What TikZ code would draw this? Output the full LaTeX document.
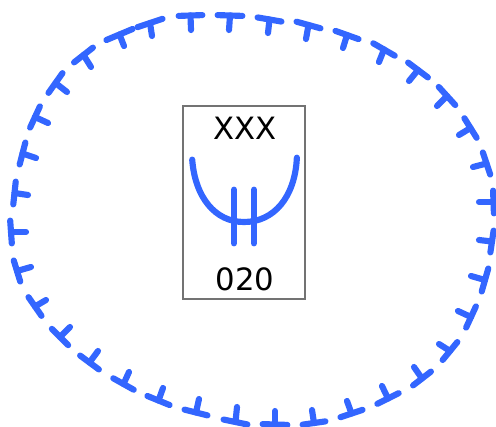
\documentclass[tikz,border=0pt]{standalone}
\usepackage{fontspec}
\setmainfont{DejaVu Sans}
\definecolor{symblue}{HTML}{3366FF}
\tikzset{
  blueline/.style={draw=symblue, line width=3.5pt, line cap=round, shorten >=1.5pt, shorten <=1.5pt},
  stemline/.style={draw=symblue, line width=3.5pt, line cap=round},
  boxlabel/.style={draw=none, font=\fontsize{17.5}{20}\selectfont, inner sep=0pt}
}
\begin{document}
\begin{tikzpicture}[x=0.02cm, y=-0.02cm]
\useasboundingbox (0,0) rectangle (496,426);
\draw[draw=black!55, line width=0.6pt] (183,106) rectangle (305,299);
\node [boxlabel] at (245,128) (top) {XXX};
\node [boxlabel] at (245,279) (code) {020};
\draw[blueline] (192,157) .. controls (195,197) and (215,222) .. (244,222) .. controls (274,222) and (295,197) .. (297,155);
\draw[blueline] (234,187) -- (234,246);
\draw[blueline] (254,187) -- (254,246);
% ticks round the border: bar end, bar end, stem end
\foreach \ax/\ay/\bx/\by/\sx/\sy in {
  13/207/16/179/28/195, 19/167/26/140/36/158, 29/130/41/104/48/123,
  47/95/64/71/67/92, 72/64/95/46/91/67, 104/41/135/28/124/46,
  135/28/165/18/152/36, 176/16/205/15/191/30, 215/15/245/16/229/30,
  255/17/284/22/268/33, 294/21/323/29/306/39, 333/30/361/40/343/48,
  371/42/397/57/379/62, 406/61/430/79/409/81, 437/85/457/107/437/106,
  463/116/478/140/459/135, 482/150/491/177/473/167, 493/188/494/216/479/202,
  494/228/490/255/479/240, 489/266/481/294/471/276, 477/304/465/330/458/311,
  459/340/441/362/439/344, 433/370/411/387/414/367, 401/392/375/405/382/386,
  365/409/338/418/347/401, 328/421/300/425/312/410, 290/425/260/424/275/411,
  250/425/221/419/237/407, 210/416/182/409/199/399, 172/406/145/395/163/388,
  136/391/111/377/129/372, 101/371/78/354/98/351, 70/347/50/327/70/327,
  43/318/27/295/46/300, 21/284/13/258/31/267, 12/246/10/218/26/232}
{
  \draw[blueline] (\ax,\ay) -- (\bx,\by);
  \draw[stemline] ({(\ax+\bx)/2},{(\ay+\by)/2}) -- (\sx,\sy);
}
\end{tikzpicture}
\end{document}
